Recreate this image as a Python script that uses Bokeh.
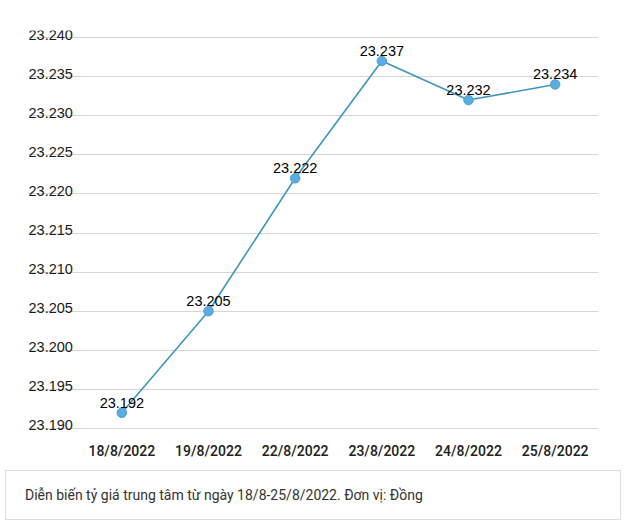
from bokeh.plotting import figure
from bokeh.models import Range1d, FixedTicker, Div, ColumnDataSource
from bokeh.layouts import column
from bokeh.core.properties import value
from bokeh.embed import file_html
from bokeh.resources import INLINE

dates = ["18/8/2022", "19/8/2022", "22/8/2022", "23/8/2022", "24/8/2022", "25/8/2022"]
rates = [23192, 23205, 23222, 23237, 23232, 23234]
y_ticks = [23190, 23195, 23200, 23205, 23210, 23215, 23220, 23225, 23230, 23235, 23240]
caption = "Diễn biến tỷ giá trung tâm từ ngày 18/8-25/8/2022. Đơn vị: Đồng"


def fmt(v):
    return f"{v:,}".replace(",", ".")


idx = list(range(len(dates)))
x_start, x_end = -1.077, 5.5
y_start, y_end = 23189.74, 23240.9

p = figure(width=616, height=465, output_backend="svg", toolbar_location=None,
           x_range=Range1d(x_start, x_end), y_range=Range1d(y_start, y_end),
           min_border_left=28, min_border_right=18, min_border_top=30, min_border_bottom=35)
p.outline_line_color = None
p.background_fill_color = "white"
p.border_fill_color = "white"

p.yaxis.visible = False
p.xgrid.visible = False
p.ygrid.ticker = FixedTicker(ticks=y_ticks)
p.ygrid.grid_line_color = "#d6d6d6"
p.ygrid.grid_line_width = 1

p.xaxis.ticker = FixedTicker(ticks=idx)
p.xaxis.major_label_overrides = {i: d for i, d in zip(idx, dates)}
p.xaxis.axis_line_color = None
p.xaxis.major_tick_line_color = None
p.xaxis.minor_tick_line_color = None
p.xaxis.major_label_standoff = 6
p.xaxis.major_label_text_font = "'Roboto Medium', Roboto"
p.xaxis.major_label_text_font_size = "14px"
p.xaxis.major_label_text_font_style = "normal"
p.xaxis.major_label_text_color = "#222222"

# y tick labels drawn above grid lines
ysrc = ColumnDataSource(dict(x=[x_start] * len(y_ticks), y=y_ticks, t=[fmt(v) for v in y_ticks]))
p.text(x="x", y="y", text="t", source=ysrc, text_align="left", text_baseline="alphabetic",
       y_offset=-3, text_font=value("Liberation Sans"), text_font_size="14.5px", text_color="#1a1a1a")

src = ColumnDataSource(dict(x=idx, y=rates, t=[fmt(v) for v in rates]))
p.line(x="x", y="y", source=src, line_color="#3d95c3", line_width=1.6)
p.scatter(x="x", y="y", source=src, size=9.5, fill_color="#5aaddf", line_color="#4a9fd0", line_width=1)
p.text(x="x", y="y", text="t", source=src, text_align="center", text_baseline="alphabetic",
       y_offset=-10, text_font=value("Liberation Sans"), text_font_size="14.5px", text_color="#000000")

div = Div(text=caption, width=616, height=50,
          styles={"border": "1px solid #dedede", "box-sizing": "border-box",
                  "padding": "14px 19px", "font-family": "Roboto", "font-size": "14px",
                  "color": "#333333", "background-color": "white"})

layout = column(p, div, spacing=0)
open("out.html", "w").write(file_html(layout, INLINE))
